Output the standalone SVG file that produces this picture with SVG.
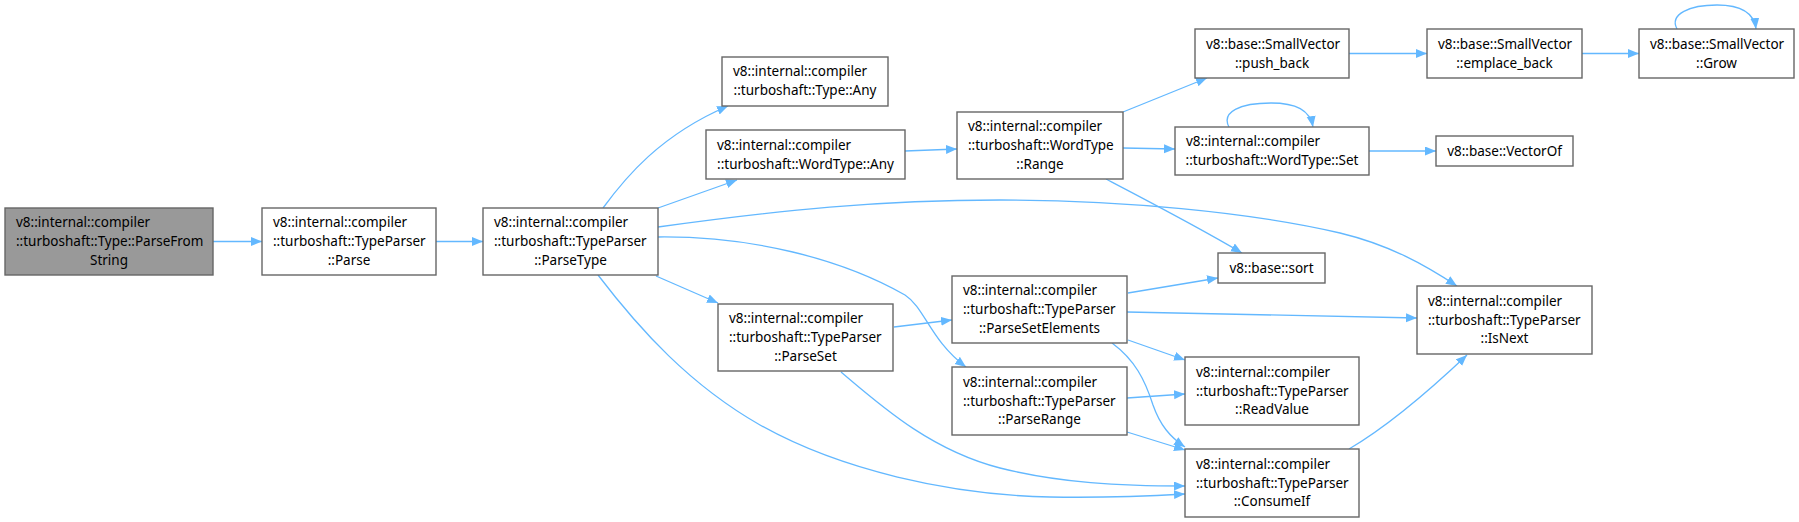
<svg xmlns="http://www.w3.org/2000/svg" width="1799" height="522" viewBox="0 0 1799 522">
<style>
.n rect{fill:#ffffff;stroke:#666666;stroke-width:1.4}
.root rect{fill:#999999}
text{font-family:"Noto Sans","DejaVu Sans",sans-serif;font-size:13.5px;fill:#000}
.m{text-anchor:middle}
.e path{fill:none;stroke:#63b8ff;stroke-width:1.3;marker-end:url(#ah)}
</style>
<defs>
<marker id="ah" markerUnits="userSpaceOnUse" markerWidth="12" markerHeight="10" refX="11" refY="4.5" orient="auto">
<path d="M0,0 L11,4.5 L0,9 z" fill="#63b8ff"/>
</marker>
</defs>
<g class="e">
<path d="M213,241.5 L262,241.5"/>
<path d="M436,241.5 L483,241.5"/>
<path d="M603,208 C625,178 660,135 728,106"/>
<path d="M658,208 L737,180"/>
<path d="M905,151 L957,149"/>
<path d="M1123,112 L1207,78"/>
<path d="M1123,148 L1175,149"/>
<path d="M1229,127 C1221,112 1240,103 1271,103 C1296,103 1310,110 1313,127"/>
<path d="M1369,151 L1436,151"/>
<path d="M1349,53.5 L1427,53.5"/>
<path d="M1582,53.5 L1639,53.5"/>
<path d="M1677,29 C1669,14 1690,5 1717,5 C1740,5 1754,12 1756,29"/>
<path d="M1106,179 C1150,202 1200,228 1242,253"/>
<path d="M658,227 C780,210 880,200 1000,200 C1120,200 1250,212 1340,233 C1390,245 1425,265 1457,286"/>
<path d="M658,237 C750,236 840,258 905,295 C925,308 930,340 966,367"/>
<path d="M656,276 L718,303"/>
<path d="M598,275 C640,330 690,385 760,425 C840,470 950,495 1050,497 C1100,498 1150,496 1185,494"/>
<path d="M841,372 C880,405 930,450 1000,468 C1060,483 1120,486 1185,486"/>
<path d="M894,327 L952,320"/>
<path d="M1128,293 L1218,278"/>
<path d="M1127,312 L1417,318"/>
<path d="M1128,340 L1185,360"/>
<path d="M1112,343 C1135,360 1145,380 1153,405 C1160,425 1170,437 1185,447"/>
<path d="M1127,398 L1185,394"/>
<path d="M1127,432 L1185,450"/>
<path d="M1349,449 C1390,425 1430,390 1467,355"/>
</g>
<g id="n1" class="n root"><rect x="5" y="208" width="208" height="67"/>
<text x="16" y="227">v8::internal::compiler</text><text x="16" y="246">::turboshaft::Type::ParseFrom</text><text x="109" y="264.5" class="m">String</text></g>
<g id="n2" class="n"><rect x="262" y="208" width="174" height="67"/>
<text x="273" y="227">v8::internal::compiler</text><text x="273" y="246">::turboshaft::TypeParser</text><text x="349" y="264.5" class="m">::Parse</text></g>
<g id="n3" class="n"><rect x="483" y="208" width="175" height="67"/>
<text x="494" y="227">v8::internal::compiler</text><text x="494" y="246">::turboshaft::TypeParser</text><text x="570.5" y="264.5" class="m">::ParseType</text></g>
<g id="n4" class="n"><rect x="722" y="57" width="166" height="49"/>
<text x="733" y="76">v8::internal::compiler</text><text x="805" y="95" class="m">::turboshaft::Type::Any</text></g>
<g id="n5" class="n"><rect x="706" y="130" width="199" height="49"/>
<text x="717" y="149.5">v8::internal::compiler</text><text x="805.5" y="168.5" class="m">::turboshaft::WordType::Any</text></g>
<g id="n6" class="n"><rect x="957" y="112" width="166" height="67"/>
<text x="968" y="131">v8::internal::compiler</text><text x="968" y="150">::turboshaft::WordType</text><text x="1040" y="168.5" class="m">::Range</text></g>
<g id="n7" class="n"><rect x="1195" y="29" width="154" height="49"/>
<text x="1206" y="48.5">v8::base::SmallVector</text><text x="1272" y="67.5" class="m">::push_back</text></g>
<g id="n8" class="n"><rect x="1175" y="127" width="194" height="48"/>
<text x="1186" y="146">v8::internal::compiler</text><text x="1272" y="165" class="m">::turboshaft::WordType::Set</text></g>
<g id="n9" class="n"><rect x="1427" y="29" width="155" height="49"/>
<text x="1438" y="48.5">v8::base::SmallVector</text><text x="1504.5" y="67.5" class="m">::emplace_back</text></g>
<g id="n10" class="n"><rect x="1639" y="29" width="155" height="49"/>
<text x="1650" y="48.5">v8::base::SmallVector</text><text x="1716.5" y="67.5" class="m">::Grow</text></g>
<g id="n11" class="n"><rect x="1436" y="136" width="137" height="30"/>
<text x="1504.5" y="155.5" class="m">v8::base::VectorOf</text></g>
<g id="n12" class="n"><rect x="1218" y="253" width="107" height="30"/>
<text x="1271.5" y="272.5" class="m">v8::base::sort</text></g>
<g id="n13" class="n"><rect x="718" y="304" width="175" height="67"/>
<text x="729" y="323">v8::internal::compiler</text><text x="729" y="342">::turboshaft::TypeParser</text><text x="805.5" y="360.5" class="m">::ParseSet</text></g>
<g id="n14" class="n"><rect x="952" y="276" width="175" height="67"/>
<text x="963" y="295">v8::internal::compiler</text><text x="963" y="314">::turboshaft::TypeParser</text><text x="1039.5" y="332.5" class="m">::ParseSetElements</text></g>
<g id="n15" class="n"><rect x="952" y="367" width="175" height="68"/>
<text x="963" y="386.5">v8::internal::compiler</text><text x="963" y="405.5">::turboshaft::TypeParser</text><text x="1039.5" y="424" class="m">::ParseRange</text></g>
<g id="n16" class="n"><rect x="1185" y="357" width="174" height="68"/>
<text x="1196" y="376.5">v8::internal::compiler</text><text x="1196" y="395.5">::turboshaft::TypeParser</text><text x="1272" y="414" class="m">::ReadValue</text></g>
<g id="n17" class="n"><rect x="1185" y="449" width="174" height="68"/>
<text x="1196" y="468.5">v8::internal::compiler</text><text x="1196" y="487.5">::turboshaft::TypeParser</text><text x="1272" y="506" class="m">::ConsumeIf</text></g>
<g id="n18" class="n"><rect x="1417" y="286" width="175" height="68"/>
<text x="1428" y="305.5">v8::internal::compiler</text><text x="1428" y="324.5">::turboshaft::TypeParser</text><text x="1504.5" y="343" class="m">::IsNext</text></g>
</svg>
